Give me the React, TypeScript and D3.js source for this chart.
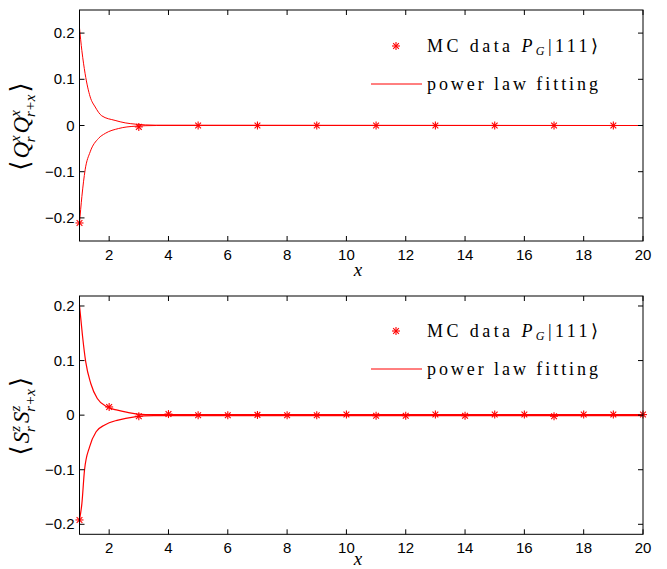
import React from "react";
import * as d3 from "d3";

// ---------- data ----------
const xTicks = [2, 4, 6, 8, 10, 12, 14, 16, 18, 20];
const yTicks = [-0.2, -0.1, 0, 0.1, 0.2];
const yTickLabels = ["\u22120.2", "\u22120.1", "0", "0.1", "0.2"];

// top panel: <Q^x_r Q^x_{r+x}>
const topMcX = [1, 3, 5, 7, 9, 11, 13, 15, 17, 19];
const topMcY = [-0.211, -0.003, 0, 0, 0, 0, 0, 0, 0, 0];
const topFitUpX = [1, 1.08, 1.19, 1.36, 1.53, 1.75, 2.2, 2.54, 2.88, 3.55, 20];
const topFitUpY = [0.211, 0.162, 0.112, 0.062, 0.04, 0.021, 0.011, 0.0057, 0.003, 0.0007, 0];
const topFitLoX = [1, 1.08, 1.19, 1.36, 1.64, 1.87, 2.32, 2.88, 3.6, 20];
const topFitLoY = [-0.211, -0.154, -0.096, -0.057, -0.028, -0.017, -0.0065, -0.0015, 0, 0];

// bottom panel: <S^z_r S^z_{r+x}>
const botMcX = [1, 2, 3, 4, 5, 6, 7, 8, 9, 10, 11, 12, 13, 14, 15, 16, 17, 18, 19, 20];
const botMcY = [-0.192, 0.015, -0.002, 0.002, 0, 0, 0.0005, 0, 0, 0.001, -0.001, -0.001, 0.001, -0.001, 0.001, 0.001, -0.002, 0.001, 0.001, 0.001];
const botFitUpX = [1, 1.1, 1.21, 1.38, 1.6, 1.94, 2.28, 2.62, 2.96, 3.5, 20];
const botFitUpY = [0.201, 0.146, 0.0975, 0.058, 0.0305, 0.015, 0.0091, 0.005, 0.0018, 0.0008, 0.0008];
const botFitLoX = [1, 1.08, 1.17, 1.34, 1.56, 1.85, 2.3, 2.86, 3.5, 20];
const botFitLoY = [-0.192, -0.162, -0.1, -0.058, -0.0305, -0.018, -0.009, -0.003, -0.0008, -0.0008];

const legendMc = "MC data";
const legendFit = "power law fitting";

// ---------- layout ----------
const W = 667;
const H = 569;
const LEFT = 79.5;
const RIGHT = 643;
const RED = "#ff0000";
const SANS = "'Liberation Sans', Arial, Helvetica, sans-serif";
const SERIF = "'Liberation Serif', 'DejaVu Serif', serif";

type Seg = { t: string; it?: boolean; fs?: number; dx?: number; dy?: number };

function Star({ x, y, r = 4 }: { x: number; y: number; r?: number }) {
  const d = r * 0.72;
  return (
    <g stroke={RED} strokeWidth={1.1}>
      <line x1={x} y1={y - r} x2={x} y2={y + r} />
      <line x1={x - r} y1={y} x2={x + r} y2={y} />
      <line x1={x - d} y1={y - d} x2={x + d} y2={y + d} />
      <line x1={x - d} y1={y + d} x2={x + d} y2={y - d} />
    </g>
  );
}

function MathText({ segs, fs }: { segs: Seg[]; fs: number }) {
  return (
    <>
      {segs.map((s, i) => (
        <tspan
          key={i}
          fontStyle={s.it ? "italic" : "normal"}
          fontSize={s.fs ?? fs}
          dx={s.dx ?? 0}
          dy={s.dy ?? 0}
        >
          {s.t}
        </tspan>
      ))}
    </>
  );
}

function Panel({
  top,
  bottom,
  yDomain,
  mcX,
  mcY,
  upX,
  upY,
  loX,
  loY,
  yLabel,
  legendY,
  xLabelY,
  fitWidth,
}: {
  top: number;
  bottom: number;
  yDomain: [number, number];
  mcX: number[];
  mcY: number[];
  upX: number[];
  upY: number[];
  loX: number[];
  loY: number[];
  yLabel: Seg[];
  legendY: number;
  xLabelY: number;
  fitWidth: number;
}) {
  const x = d3.scaleLinear().domain([1, 20]).range([LEFT, RIGHT]);
  const y = d3.scaleLinear().domain(yDomain).range([bottom, top]);
  const line = d3
    .line<[number, number]>()
    .x((d) => x(d[0]))
    .y((d) => y(d[1]))
    .curve(d3.curveMonotoneX);
  const up = line(upX.map((v, i) => [v, upY[i]] as [number, number])) || "";
  const lo = line(loX.map((v, i) => [v, loY[i]] as [number, number])) || "";
  const tl = 5;
  const midY = (top + bottom) / 2 + 1;
  return (
    <g>
      <path d={up} fill="none" stroke={RED} strokeWidth={fitWidth} />
      <path d={lo} fill="none" stroke={RED} strokeWidth={fitWidth} />
      {mcX.map((v, i) => (
        <Star key={i} x={x(v)} y={y(mcY[i])} />
      ))}
      <rect x={LEFT} y={top} width={RIGHT - LEFT} height={bottom - top} fill="none" stroke="#000" strokeWidth={1} />
      {xTicks.map((t) => (
        <g key={"x" + t} stroke="#000" strokeWidth={1}>
          <line x1={x(t)} x2={x(t)} y1={bottom} y2={bottom - tl} />
          <line x1={x(t)} x2={x(t)} y1={top} y2={top + tl} />
        </g>
      ))}
      {yTicks.map((t) => (
        <g key={"y" + t} stroke="#000" strokeWidth={1}>
          <line x1={LEFT} x2={LEFT + tl} y1={y(t)} y2={y(t)} />
          <line x1={RIGHT} x2={RIGHT - tl} y1={y(t)} y2={y(t)} />
        </g>
      ))}
      {xTicks.map((t) => (
        <text key={"xl" + t} x={x(t)} y={bottom + 19} textAnchor="middle" fontFamily={SANS} fontSize={15} fill="#000">
          {t}
        </text>
      ))}
      {yTicks.map((t, i) => (
        <text key={"yl" + t} x={LEFT - 5} y={y(t) + 5} textAnchor="end" fontFamily={SANS} fontSize={15} fill="#000">
          {yTickLabels[i]}
        </text>
      ))}
      <text x={358} y={xLabelY} textAnchor="middle" fontFamily={SERIF} fontStyle="italic" fontSize={19} fill="#000">
        x
      </text>
      <g transform={`translate(22,${midY}) rotate(-90)`}>
        <text x={0} y={7} textAnchor="middle" fontFamily={SERIF} fontSize={23} fill="#000">
          <MathText segs={yLabel} fs={23} />
        </text>
      </g>
      <Star x={396} y={legendY} />
      <text x={427} y={legendY + 6} fontFamily={SERIF} fontSize={18} fill="#000" textLength={171} lengthAdjust="spacing">
        {legendMc + " "}
        <tspan fontStyle="italic">P</tspan>
        <tspan fontStyle="italic" fontSize={12} dy={3}>G</tspan>
        <tspan dy={-3}>|111⟩</tspan>
      </text>
      <line x1={371} x2={422} y1={legendY + 38} y2={legendY + 38} stroke={RED} strokeWidth={1} />
      <text x={427} y={legendY + 44} fontFamily={SERIF} fontSize={18} fill="#000" textLength={171} lengthAdjust="spacing">
        {legendFit}
      </text>
    </g>
  );
}

const qLabel: Seg[] = [
  { t: "⟨", fs: 26 },
  { t: "Q", it: true, dx: 2 },
  { t: "x", it: true, fs: 15, dy: -9 },
  { t: "r", it: true, fs: 15, dx: -7, dy: 15 },
  { t: "Q", it: true, dx: 3, dy: -6 },
  { t: "x", it: true, fs: 15, dy: -9 },
  { t: "r+x", it: true, fs: 15, dx: -7, dy: 15 },
  { t: "⟩", fs: 26, dx: 2, dy: -6 },
];

const sLabel: Seg[] = [
  { t: "⟨", fs: 26 },
  { t: "S", it: true, dx: 2 },
  { t: "z", it: true, fs: 15, dy: -9 },
  { t: "r", it: true, fs: 15, dx: -6, dy: 15 },
  { t: "S", it: true, dx: 3, dy: -6 },
  { t: "z", it: true, fs: 15, dy: -9 },
  { t: "r+x", it: true, fs: 15, dx: -6, dy: 15 },
  { t: "⟩", fs: 26, dx: 2, dy: -6 },
];

export default function App() {
  return (
    <svg
      width={W}
      height={H}
      viewBox={`0 0 ${W} ${H}`}
      style={{ position: "absolute", left: 0, top: 0, background: "#fff" }}
    >
      <rect x={0} y={0} width={W} height={H} fill="#fff" />
      <Panel
        top={10}
        bottom={241}
        yDomain={[-0.25, 0.25]}
        mcX={topMcX}
        mcY={topMcY}
        upX={topFitUpX}
        upY={topFitUpY}
        loX={topFitLoX}
        loY={topFitLoY}
        yLabel={qLabel}
        legendY={46}
        xLabelY={276}
        fitWidth={1}
      />
      <Panel
        top={296}
        bottom={534.3}
        yDomain={[-0.2183, 0.2183]}
        mcX={botMcX}
        mcY={botMcY}
        upX={botFitUpX}
        upY={botFitUpY}
        loX={botFitLoX}
        loY={botFitLoY}
        yLabel={sLabel}
        legendY={331}
        xLabelY={565}
        fitWidth={1.2}
      />
    </svg>
  );
}
